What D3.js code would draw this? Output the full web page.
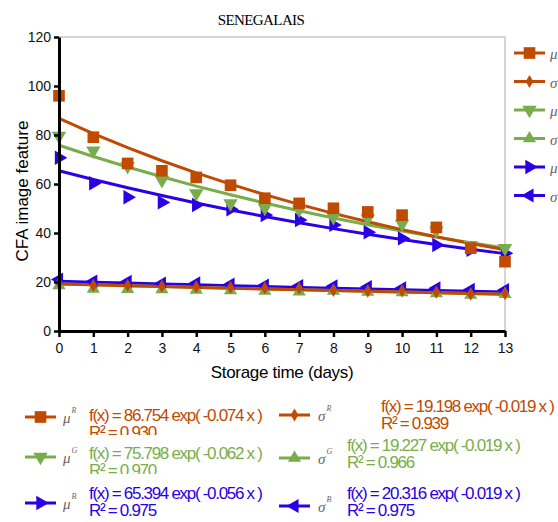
<!DOCTYPE html>
<html>
<head>
<meta charset="utf-8">
<script src="https://cdn.jsdelivr.net/npm/d3@7"></script>
<style>
  body { margin: 0; background: #fff; }
  svg { display: block; font-family: "Liberation Sans", Arial, sans-serif; }
</style>
</head>
<body>
<script>
// Data
var days = [0, 1, 2, 3, 4, 5, 6, 7, 8, 9, 10, 11, 12, 13];
var muR = [96.0, 79.1, 68.4, 65.4, 62.7, 59.5, 54.2, 52.1, 50.1, 48.6, 47.3, 42.3, 33.8, 28.3];
var muG = [79.6, 73.6, 67.3, 61.6, 56.2, 52.1, 50.2, 49.5, 46.5, 46.0, 43.7, 41.0, 35.0, 33.8];
var muB = [70.7, 60.3, 54.6, 52.5, 51.4, 49.7, 47.3, 45.3, 43.3, 40.3, 37.8, 35.1, 33.1, 31.7];
var sigR = [19.6, 18.6, 18.6, 18.3, 18.0, 17.8, 17.6, 17.5, 16.6, 16.3, 16.4, 15.8, 15.0, 15.2];
var sigG = [18.6, 17.2, 17.1, 17.0, 16.8, 16.6, 16.3, 16.0, 16.3, 15.9, 15.7, 15.3, 14.7, 15.0];
var sigB = [21.0, 20.2, 20.1, 19.4, 19.5, 19.0, 18.6, 18.4, 18.3, 18.0, 17.4, 17.4, 16.8, 16.7];
var yTicks = [0, 20, 40, 60, 80, 100, 120];

// fit coefficients and R² from the legend: f(x) = a exp(b x)
var fitA = [86.754, 19.198, 75.798, 19.227, 65.394, 20.316];
var fitB = [-0.074, -0.019, -0.062, -0.019, -0.056, -0.019];
var fitR2 = ["0.930", "0.939", "0.970", "0.966", "0.975", "0.975"];

var red = "#c04a00", green = "#79ad4c", blue = "#2a00e6";
var series = [
  {name: "\u03bc", sup: "R", values: muR, color: red, shape: "square", rot: 0, size: 135},
  {name: "\u03c3", sup: "R", values: sigR, color: red, shape: "diamond", rot: 0, size: 50},
  {name: "\u03bc", sup: "G", values: muG, color: green, shape: "triangle", rot: 180, size: 90},
  {name: "\u03c3", sup: "G", values: sigG, color: green, shape: "triangle", rot: 0, size: 75},
  {name: "\u03bc", sup: "B", values: muB, color: blue, shape: "triangle", rot: 90, size: 90},
  {name: "\u03c3", sup: "B", values: sigB, color: blue, shape: "triangle", rot: -90, size: 85}
];
series.forEach((s, i) => { s.a = fitA[i]; s.b = fitB[i]; s.r2 = fitR2[i]; });

var shapes = {square: d3.symbolSquare, diamond: d3.symbolDiamond, triangle: d3.symbolTriangle};

var width = 558, height = 522;
var margin = {top: 37, left: 59, right: 53, bottom: 191};
var w = width - margin.left - margin.right,
    h = height - margin.top - margin.bottom;

var svg = d3.select("body").append("svg")
    .attr("width", width)
    .attr("height", height);

var x = d3.scaleLinear().domain([0, 13]).range([0, w]);
var y = d3.scaleLinear().domain([0, 120]).range([h, 0]);

var g = svg.append("g")
    .attr("transform", "translate(" + margin.left + "," + margin.top + ")");

// title
svg.append("text")
    .attr("x", 261).attr("y", 25)
    .attr("text-anchor", "middle")
    .style("font-family", "'Liberation Serif', 'Times New Roman', serif")
    .style("font-size", "15px")
    .style("letter-spacing", "-0.6px")
    .text("SENEGALAIS");

// light frame top/right
g.append("path")
    .attr("d", "M0,0H" + w + "V" + h)
    .attr("fill", "none")
    .attr("stroke", "#c8c8c8")
    .attr("stroke-width", 1.5);

// fitted curves and points
function marker(sel, s) {
  sel.attr("d", d3.symbol().type(shapes[s.shape]).size(s.size))
     .attr("fill", s.color);
}

var drawOrder = [5, 3, 1, 4, 2, 0];
drawOrder.forEach(function(i) {
  var s = series[i];
  var line = d3.line().x(d => x(d)).y(d => y(s.a * Math.exp(s.b * d)));
  g.append("path")
      .datum(days)
      .attr("d", line)
      .attr("fill", "none")
      .attr("stroke", s.color)
      .attr("stroke-width", 3);
});
drawOrder.forEach(function(i) {
  var s = series[i];
  g.selectAll(null)
      .data(s.values)
      .enter().append("path")
      .call(marker, s)
      .attr("transform", (d, j) => "translate(" + x(days[j]) + "," + y(d) + ") rotate(" + s.rot + ")");
});

// axes
var yAxis = g.append("g")
    .call(d3.axisLeft(y).tickValues(yTicks).tickSize(5).tickSizeOuter(0).tickPadding(3));
var xAxis = g.append("g")
    .attr("transform", "translate(0," + h + ")")
    .call(d3.axisBottom(x).tickValues(days).tickSize(6).tickSizeOuter(0).tickPadding(6));
[xAxis, yAxis].forEach(function(a) {
  a.select(".domain").attr("stroke", "#000").attr("stroke-width", 3);
  a.selectAll(".tick line").attr("stroke", "#000").attr("stroke-width", 2.5);
  a.selectAll(".tick text").style("font-size", "14px").attr("fill", "#111");
});

// axis titles
svg.append("text")
    .attr("x", 282).attr("y", 378)
    .attr("text-anchor", "middle")
    .style("font-size", "17px")
    .style("letter-spacing", "-0.3px")
    .text("Storage time (days)");
svg.append("text")
    .attr("transform", "translate(28,191) rotate(-90)")
    .attr("text-anchor", "middle")
    .style("font-size", "17px")
    .text("CFA image feature");

// legend item: line with marker + italic label
function legendItem(parent, s, lx, ly, tx) {
  parent.append("line")
      .attr("x1", lx).attr("x2", lx + 31)
      .attr("y1", ly).attr("y2", ly)
      .attr("stroke", s.color).attr("stroke-width", 3);
  parent.append("path")
      .call(marker, s)
      .attr("transform", "translate(" + (lx + 15.5) + "," + ly + ") rotate(" + s.rot + ")");
  var t = parent.append("text")
      .attr("x", tx).attr("y", ly + 6)
      .attr("fill", "#666")
      .style("font-family", "'Liberation Serif', serif")
      .style("font-style", "italic")
      .style("font-size", "15px")
      .text(s.name);
  t.append("tspan")
      .attr("dx", 1).attr("dy", -10)
      .style("font-size", "8px")
      .text(s.sup);
}

// right legend
series.forEach(function(s, i) {
  legendItem(svg, s, 514, 53 + i * 28.5, 550);
});

// bottom legend
var fitPos = [
  {lx: 25, ly: 417, tx: 63, fx: 89, fy: 421, clip: 435},
  {lx: 279, ly: 415, tx: 318, fx: 381, fy: 412, clip: null},
  {lx: 25, ly: 457, tx: 63, fx: 89, fy: 459, clip: 474},
  {lx: 279, ly: 458, tx: 318, fx: 347, fy: 451, clip: null},
  {lx: 25, ly: 503, tx: 63, fx: 89, fy: 499, clip: null},
  {lx: 279, ly: 506, tx: 318, fx: 347, fy: 499, clip: null}
];
var defs = svg.append("defs");
series.forEach(function(s, i) {
  var p = fitPos[i];
  legendItem(svg, s, p.lx, p.ly, p.tx);
  var tg = svg.append("g");
  if (p.clip) {
    defs.append("clipPath").attr("id", "clip" + i)
      .append("rect").attr("x", 0).attr("y", 0).attr("width", width).attr("height", p.clip);
    tg.attr("clip-path", "url(#clip" + i + ")");
  }
  var txt = tg.append("text")
      .attr("fill", s.color)
      .style("font-size", "17px")
      .style("letter-spacing", "-1.3px");
  txt.append("tspan").attr("x", p.fx).attr("y", p.fy)
      .text("f(x) = " + s.a.toFixed(3) + " exp( " + s.b.toFixed(3) + " x )");
  txt.append("tspan").attr("x", p.fx).attr("y", p.fy + 17)
      .text("R\u00b2 = " + s.r2);
});
</script>
</body>
</html>
